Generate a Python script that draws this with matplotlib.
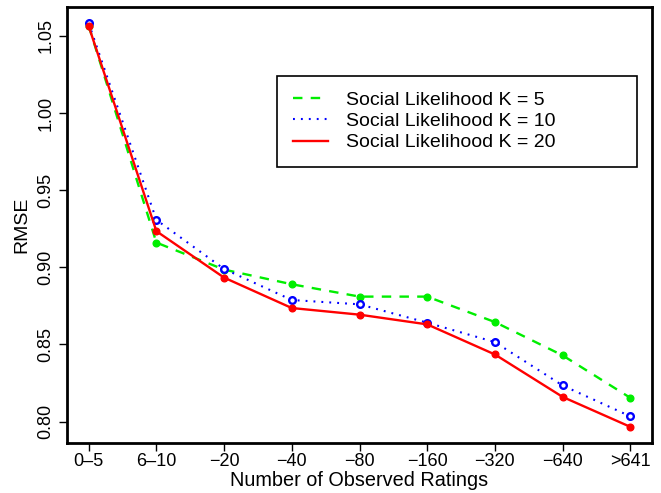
import numpy as np
import matplotlib.pyplot as plt

plt.rcParams['font.family'] = ['Liberation Sans', 'DejaVu Sans']

groups = ['0\u20135', '6\u201310', '\u221220', '\u221240', '\u221280',
          '\u2212160', '\u2212320', '\u2212640', '>641']
rmse_k5 = [1.0565, 0.9160, 0.8985, 0.8890, 0.8810, 0.8810, 0.8645, 0.8429, 0.8154]
rmse_k10 = [1.0582, 0.9307, 0.8989, 0.8788, 0.8760, 0.8641, 0.8515, 0.8234, 0.8034]
rmse_k20 = [1.0563, 0.9234, 0.8933, 0.8736, 0.8693, 0.8630, 0.8435, 0.8160, 0.7966]

x = np.arange(1, len(groups) + 1)

fig = plt.figure(figsize=(6.61, 4.93), dpi=100)
ax = fig.add_axes([67 / 661, 1 - 443 / 493, 585 / 661, 436 / 493])

ax.plot(x, rmse_k5, color='#00ee00', lw=1.7, ls=(0, (4, 3.5)),
        marker='o', ms=4.8, mfc='#00ee00', mec='#00ee00',
        label='Social Likelihood K = 5')
ax.plot(x, rmse_k10, color='#0000ff', lw=1.5, ls=(0, (0.9, 2.9)),
        marker='o', ms=4.8, mfc='white', mec='#0000ff', mew=1.7,
        label='Social Likelihood K = 10')
ax.plot(x, rmse_k20, color='#ff0000', lw=1.7, ls='-',
        marker='o', ms=4.8, mfc='#ff0000', mec='#ff0000',
        label='Social Likelihood K = 20')

# R-style 4% padding around the data range
allv = rmse_k5 + rmse_k10 + rmse_k20
lo, hi = min(allv), max(allv)
pad = 0.04 * (hi - lo)
ax.set_ylim(lo - pad, hi + pad)
ax.set_xlim(1 - 0.04 * 8, 9 + 0.04 * 8)

ax.set_xticks(x)
ax.set_xticklabels(groups)
ax.set_yticks([0.80, 0.85, 0.90, 0.95, 1.00, 1.05])
ax.set_yticklabels(['0.80', '0.85', '0.90', '0.95', '1.00', '1.05'],
                   rotation=90, va='center')
ax.tick_params(direction='out', length=6, width=1, labelsize=13, pad=3)
ax.tick_params(axis='x', pad=1.5)
for s in ax.spines.values():
    s.set_linewidth(2)

ax.set_xlabel('Number of Observed Ratings', fontsize=14.3, labelpad=0.5)
ax.set_ylabel('RMSE', fontsize=14, labelpad=5)

leg = ax.legend(loc='upper left',
                bbox_to_anchor=(277 / 661, 1 - 162 / 493, 360 / 661, 86 / 493),
                bbox_transform=fig.transFigure, mode='expand', fontsize=14,
                fancybox=False, framealpha=1, edgecolor='black',
                handlelength=1.8, handletextpad=0.95, borderpad=0.8,
                labelspacing=0.18, borderaxespad=0)
leg.get_frame().set_linewidth(1.2)
for h in leg.get_lines():
    h.set_marker('')

fig.savefig('out.png', dpi=100)
